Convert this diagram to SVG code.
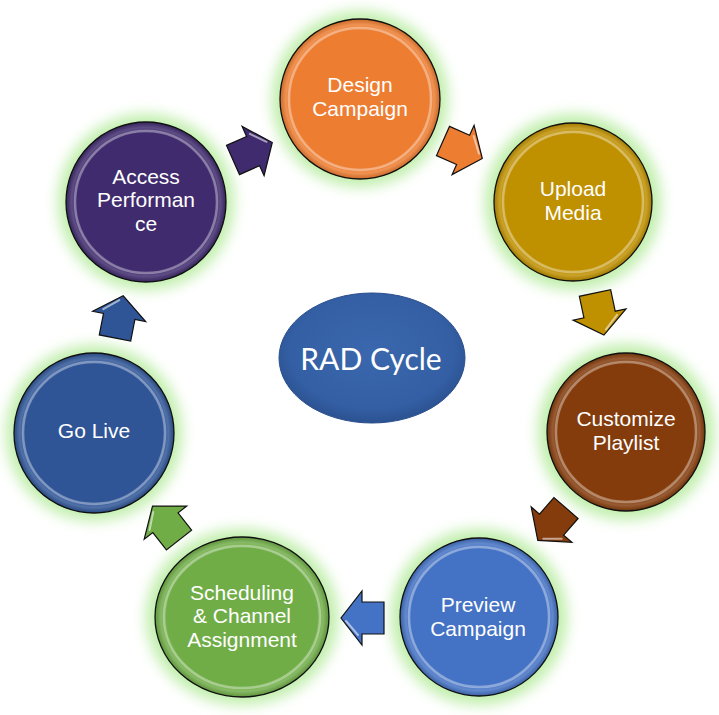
<svg xmlns="http://www.w3.org/2000/svg" width="719" height="715" viewBox="0 0 719 715">
<defs>
<filter id="glow" x="-30%" y="-30%" width="160%" height="160%"><feGaussianBlur stdDeviation="7"/></filter>
<radialGradient id="shine" cx="50%" cy="50%" r="50%">
<stop offset="0.86" stop-color="#fff" stop-opacity="0"/>
<stop offset="0.93" stop-color="#fff" stop-opacity="0.16"/>
<stop offset="1" stop-color="#000" stop-opacity="0.15"/>
</radialGradient>
<radialGradient id="radg" cx="50%" cy="45%" r="55%">
<stop offset="0" stop-color="#3A67AD"/>
<stop offset="0.8" stop-color="#345FA4"/>
<stop offset="1" stop-color="#2B5291"/>
</radialGradient>
<polygon id="arr" points="0,-16 22,-16 22,-27 43,0 22,27 22,16 0,16"/>
</defs>
<style>
.halo{fill:#bfeeaa;filter:url(#glow)}
.disc{stroke:#111;stroke-width:1.3}
.ring{fill:none;stroke:#fff;stroke-opacity:.35;stroke-width:2.5}
.lbl{font-family:"Liberation Sans",Arial,sans-serif;font-size:21px;fill:#fff;text-anchor:middle}
.arrow use{stroke:#111;stroke-width:1.2;stroke-linejoin:miter}
.hl{fill:none;stroke:#fff;stroke-opacity:.55;stroke-width:2;stroke-linecap:round}
</style>
<rect width="719" height="715" fill="#fff"/>

<g id="node-design">
<circle class="halo" cx="360" cy="99" r="88"/>
<circle class="disc" cx="360" cy="99" r="80" fill="#ED7D31"/>
<circle cx="360" cy="99" r="80" fill="url(#shine)"/>
<circle class="ring" cx="360" cy="99" r="71"/>
<text class="lbl" x="360" y="92">Design</text>
<text class="lbl" x="360" y="115.5">Campaign</text>
</g>

<g id="node-upload">
<circle class="halo" cx="573" cy="202" r="88"/>
<circle class="disc" cx="573" cy="202" r="79" fill="#BF9000"/>
<circle cx="573" cy="202" r="79" fill="url(#shine)"/>
<circle class="ring" cx="573" cy="202" r="70"/>
<text class="lbl" x="573" y="196">Upload</text>
<text class="lbl" x="573" y="219.5">Media</text>
</g>

<g id="node-customize">
<circle class="halo" cx="626" cy="432" r="88"/>
<circle class="disc" cx="626" cy="432" r="79" fill="#843C0C"/>
<circle cx="626" cy="432" r="79" fill="url(#shine)"/>
<circle class="ring" cx="626" cy="432" r="70"/>
<text class="lbl" x="626" y="426">Customize</text>
<text class="lbl" x="626" y="449.5">Playlist</text>
</g>

<g id="node-preview">
<circle class="halo" cx="479" cy="617" r="88"/>
<circle class="disc" cx="479" cy="617" r="79" fill="#4472C4"/>
<circle cx="479" cy="617" r="79" fill="url(#shine)"/>
<circle class="ring" cx="479" cy="617" r="70"/>
<text class="lbl" x="478" y="612">Preview</text>
<text class="lbl" x="478" y="635.5">Campaign</text>
</g>

<g id="node-scheduling">
<ellipse class="halo" cx="242" cy="617" rx="96" ry="88"/>
<ellipse class="disc" cx="242" cy="617" rx="87" ry="80" fill="#70AD47"/>
<ellipse cx="242" cy="617" rx="87" ry="80" fill="url(#shine)"/>
<ellipse class="ring" cx="242" cy="617" rx="78" ry="71"/>
<text class="lbl" x="242" y="599.5">Scheduling</text>
<text class="lbl" x="242" y="623">&amp; Channel</text>
<text class="lbl" x="242" y="646.5">Assignment</text>
</g>

<g id="node-golive">
<circle class="halo" cx="94" cy="433" r="88"/>
<circle class="disc" cx="94" cy="433" r="80" fill="#2F5597"/>
<circle cx="94" cy="433" r="80" fill="url(#shine)"/>
<circle class="ring" cx="94" cy="433" r="71"/>
<text class="lbl" x="94" y="438">Go Live</text>
</g>

<g id="node-access">
<circle class="halo" cx="146" cy="202" r="88"/>
<circle class="disc" cx="146" cy="202" r="80" fill="#3F2B6D"/>
<circle cx="146" cy="202" r="80" fill="url(#shine)"/>
<circle class="ring" cx="146" cy="202" r="71"/>
<text class="lbl" x="146" y="183.5">Access</text>
<text class="lbl" x="146" y="207">Performan</text>
<text class="lbl" x="146" y="230.5">ce</text>
</g>

<g id="node-rad">
<ellipse cx="372" cy="358" rx="93" ry="65" fill="url(#radg)" stroke="#2A4F8C" stroke-width="1"/>
<text x="371" y="370" text-anchor="middle" font-family="Lato,'Open Sans',sans-serif" font-size="30" fill="#fff">RAD Cycle</text>
</g>

<g id="connectors" class="arrow">
<g transform="translate(233,160) rotate(-24)"><use href="#arr" fill="#3F2B6D"/><path class="hl" d="M26,-17 L38,-3"/></g>
<g transform="translate(443,141) rotate(24)"><use href="#arr" fill="#ED7D31"/><path class="hl" d="M26,-17 L38,-3"/></g>
<g transform="translate(595,293) rotate(78)"><use href="#arr" fill="#BF9000"/><path class="hl" d="M26,-17 L38,-3"/></g>
<g transform="translate(566,508) rotate(131)"><use href="#arr" fill="#843C0C"/><path class="hl" d="M26,-17 L38,-3"/></g>
<g transform="translate(384,618) rotate(180)"><use href="#arr" fill="#4472C4"/><path class="hl" d="M26,-17 L38,-3"/></g>
<g transform="translate(179,540) rotate(-128)"><use href="#arr" fill="#70AD47"/><path class="hl" d="M26,-17 L38,-3"/></g>
<g transform="translate(115,338) rotate(-79)"><use href="#arr" fill="#2F5597"/><path class="hl" d="M26,-17 L38,-3"/></g>
</g>
</svg>
